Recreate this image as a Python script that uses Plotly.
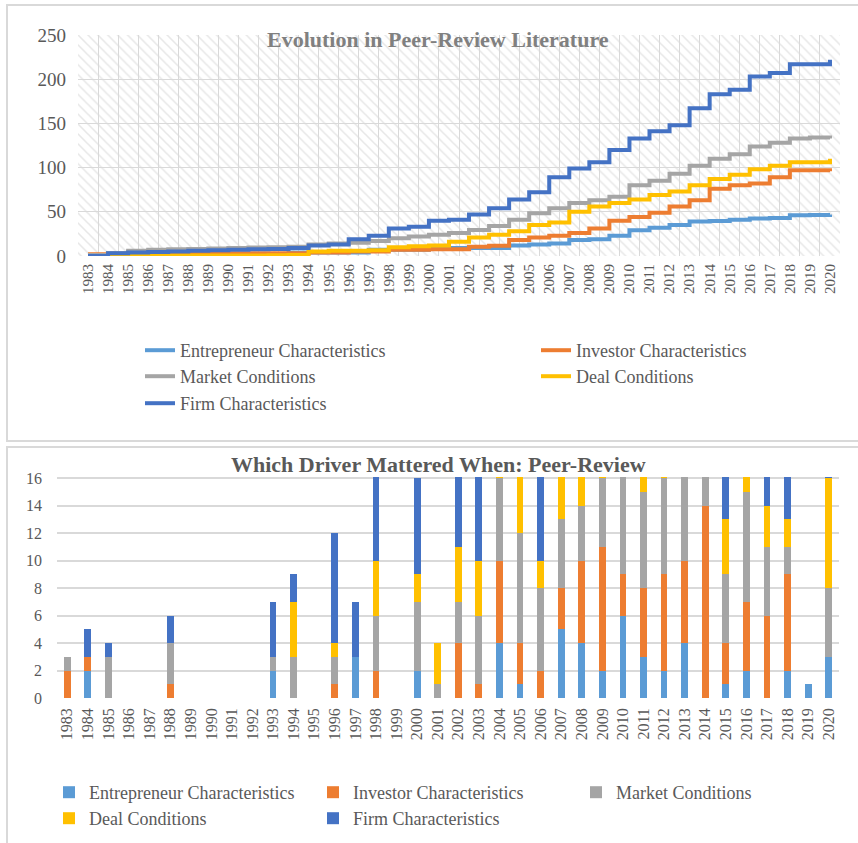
import plotly.graph_objects as go

years = list(range(1983, 2021))
year_labels = [str(y) for y in years]
series_names = ["Entrepreneur Characteristics", "Investor Characteristics",
                "Market Conditions", "Deal Conditions", "Firm Characteristics"]
colors = ["#5B9BD5", "#ED7D31", "#A5A5A5", "#FFC000", "#4472C4"]

# --- Top chart: cumulative counts ---
cum_entrepreneur = [0, 2, 2, 2, 2, 2, 2, 2, 2, 2, 4, 4, 4, 4, 7, 7, 7, 9, 9, 9, 9, 12, 13, 14, 18,
                    19, 23, 29, 32, 35, 39, 39.5, 41, 42.5, 43, 46, 46.5, 47]
cum_investor = [2, 3, 3, 3, 3, 3, 3, 3, 3, 3, 3, 4, 4, 5, 5, 7, 7, 7.5, 7.5, 10.5, 11.5, 18, 21, 23,
                26, 31, 40, 44, 49, 56, 63, 76, 80, 82, 89, 97, 97, 96]
cum_market = [1, 3.5, 6, 7, 7.5, 8, 8.5, 9, 9.5, 10, 10.5, 13, 14, 15, 17, 20, 22, 24, 26, 29.5, 34,
              41, 48.5, 54, 60, 63, 67, 80, 85, 93, 102, 110, 115, 124, 128, 133, 134, 133]
cum_deal = [0, 0.5, 0.5, 0.5, 0.5, 0.5, 0.5, 0.5, 0.5, 0.8, 1, 5, 6, 6, 6.5, 10, 11, 12, 16, 21, 24,
            28, 35, 38, 50, 56, 60, 64, 69, 73, 80, 87, 92, 98, 102, 106, 106, 110]
cum_firm = [0, 3, 4, 4.5, 5, 6, 6.5, 7, 7.5, 8, 9, 12, 13, 19, 23, 31, 33, 40, 41, 47, 54, 64, 72,
            89, 99, 106, 120, 133, 141, 148, 167, 183, 188, 203, 207, 217, 217, 222]

# --- Bottom chart: yearly counts (stack clipped at 16 in the picture) ---
yr_entrepreneur = [0, 2, 0, 0, 0, 0, 0, 0, 0, 0, 2, 0, 0, 0, 3, 0, 0, 2, 0, 0, 0, 4, 1, 0, 5, 4, 2,
                   6, 3, 2, 4, 0, 1, 2, 0, 2, 1, 3]
yr_investor = [2, 1, 0, 0, 0, 1, 0, 0, 0, 0, 0, 0, 0, 1, 0, 2, 0, 0, 0, 4, 1, 6, 3, 2, 3, 6, 9,
               3, 5, 7, 6, 14, 3, 5, 6, 7, 0, 0]
yr_market = [1, 0, 3, 0, 0, 3, 0, 0, 0, 0, 1, 3, 0, 2, 0, 4, 0, 5, 1, 3, 5, 6, 8, 6, 5, 4, 5,
             13, 7, 7, 9, 8, 5, 8, 5, 2, 0, 5]
yr_deal = [0, 0, 0, 0, 0, 0, 0, 0, 0, 0, 0, 4, 0, 1, 0, 4, 0, 2, 3, 4, 4, 2, 7, 2, 12, 6, 4,
           4, 5, 4, 7, 7, 4, 6, 3, 2, 0, 8]
yr_firm = [0, 2, 1, 0, 0, 2, 0, 0, 0, 0, 4, 2, 0, 8, 4, 8, 0, 7, 0, 6, 7, 10, 8, 17, 10, 7, 14,
           13, 8, 7, 19, 16, 5, 15, 4, 10, 0, 6]

top_title = "Evolution in Peer-Review Literature"
bottom_title = "Which Driver Mattered When: Peer-Review"

cum_series = [cum_entrepreneur, cum_investor, cum_market, cum_deal, cum_firm]
yr_series = [yr_entrepreneur, yr_investor, yr_market, yr_deal, yr_firm]

W, H = 858, 843
def px(x): return x / W
def py(y): return 1 - y / H

FONT = "Liberation Serif"
TXT = "#595959"
GRID = "#d9d9d9"

top_xd = [px(78), px(840)]
top_yd = [py(256), py(35)]
bot_xd = [px(57), px(839)]
bot_yd = [py(698), py(477)]

# legend slots: (text start x, row centre y) in pixels
top_slots = [(180, 351), (576, 351), (180, 377), (576, 377), (180, 404)]
bot_slots = [(89, 793), (353, 793), (616, 793), (89, 819), (353, 819)]
LEG_TEXT_OFF = 40
LEG_ROW_OFF = 19

fig = go.Figure()

# hatched background of the top plot area (unit square on hidden axes)
hatch_x = [0, 1, 1, 0, 0]
hatch_y = [0, 0, 1, 1, 0]
fig.add_trace(go.Scatter(x=hatch_x, y=hatch_y, xaxis="x", yaxis="y", mode="lines",
                         fill="toself", line=dict(width=0), showlegend=False, hoverinfo="skip",
                         fillcolor="rgba(0,0,0,0)",
                         fillpattern=dict(shape="\\", fgcolor="#cfcfcf", bgcolor="white",
                                          size=7, solidity=0.22)))

legends = {}
def leg_id(i):
    return "legend" if i == 1 else "legend%d" % i

k = 1
for (name, vals, c), (tx, ty) in zip(zip(series_names, cum_series, colors), top_slots):
    lid = leg_id(k)
    fig.add_trace(go.Scatter(x=years, y=vals, xaxis="x2", yaxis="y2", mode="lines",
                             name=name, line=dict(color=c, width=4, shape="hv"),
                             legend=lid))
    legends[lid] = dict(x=px(tx - LEG_TEXT_OFF), y=py(ty - LEG_ROW_OFF), xanchor="left",
                        yanchor="top", bgcolor="rgba(0,0,0,0)",
                        font=dict(size=18, color=TXT, family=FONT))
    k += 1

for (name, vals, c), (tx, ty) in zip(zip(series_names, yr_series, colors), bot_slots):
    lid = leg_id(k)
    fig.add_trace(go.Bar(x=year_labels, y=vals, xaxis="x3", yaxis="y3", name=name,
                         marker=dict(color=c, line=dict(width=0)), legend=lid))
    legends[lid] = dict(x=px(tx - LEG_TEXT_OFF), y=py(ty - LEG_ROW_OFF), xanchor="left",
                        yanchor="top", bgcolor="rgba(0,0,0,0)",
                        font=dict(size=18, color=TXT, family=FONT))
    k += 1

fig.update_layout(
    width=W, height=H, margin=dict(l=0, r=0, t=0, b=0, autoexpand=False),
    paper_bgcolor="white", plot_bgcolor="rgba(0,0,0,0)",
    font=dict(family=FONT, color=TXT),
    barmode="stack", bargap=0.67,
    xaxis=dict(domain=top_xd, range=[0, 1], visible=False, anchor="y", fixedrange=True),
    yaxis=dict(domain=top_yd, range=[0, 1], visible=False, anchor="x", fixedrange=True),
    xaxis2=dict(domain=top_xd, anchor="y2", range=[1982.5, 2020.5], tickmode="array",
                tickvals=years, ticktext=year_labels, tickangle=-90, showgrid=False,
                zeroline=False, showline=False, ticks="", ticklabelstandoff=4,
                tickfont=dict(size=15, color=TXT, family=FONT),
                minor=dict(tick0=1982.5, dtick=1, showgrid=True, gridcolor=GRID, gridwidth=1.3,
                           ticks="")),
    yaxis2=dict(domain=top_yd, anchor="x2", range=[0, 250], dtick=50, gridcolor=GRID,
                gridwidth=1.3, zeroline=False, showline=False, ticks="",
                ticklabelstandoff=11, tickfont=dict(size=19, color=TXT, family=FONT)),
    xaxis3=dict(domain=bot_xd, anchor="y3", type="category", tickangle=-90, showgrid=False,
                zeroline=False, showline=False, ticks="", ticklabelstandoff=6,
                tickfont=dict(size=16, color=TXT, family=FONT)),
    yaxis3=dict(domain=bot_yd, anchor="x3", range=[0, 16.08], tickvals=list(range(0, 17, 2)),
                gridcolor=GRID, gridwidth=1.5, zeroline=False, showline=False, ticks="",
                ticklabelstandoff=14, tickfont=dict(size=16, color=TXT, family=FONT)),
    shapes=[
        dict(type="rect", xref="paper", yref="paper", x0=px(7), x1=px(880), y0=py(441), y1=py(5),
             line=dict(color=GRID, width=2), fillcolor="rgba(0,0,0,0)", layer="below"),
        dict(type="rect", xref="paper", yref="paper", x0=px(7), x1=px(880), y0=py(870), y1=py(447),
             line=dict(color=GRID, width=2), fillcolor="rgba(0,0,0,0)", layer="below"),
    ],
    annotations=[
        dict(text="<b>%s</b>" % top_title, xref="paper", yref="paper", x=px(438), y=py(40),
             xanchor="center", yanchor="middle", showarrow=False,
             font=dict(size=22, color="#808080", family=FONT)),
        dict(text="<b>%s</b>" % bottom_title, xref="paper", yref="paper", x=px(438), y=py(464),
             xanchor="center", yanchor="middle", showarrow=False,
             font=dict(size=22, color=TXT, family=FONT)),
    ],
)
fig.update_layout(**legends)

fig.write_html("out.html", config={"displayModeBar": False},
               post_script="document.body.style.margin='0';document.body.style.overflow='hidden';")
